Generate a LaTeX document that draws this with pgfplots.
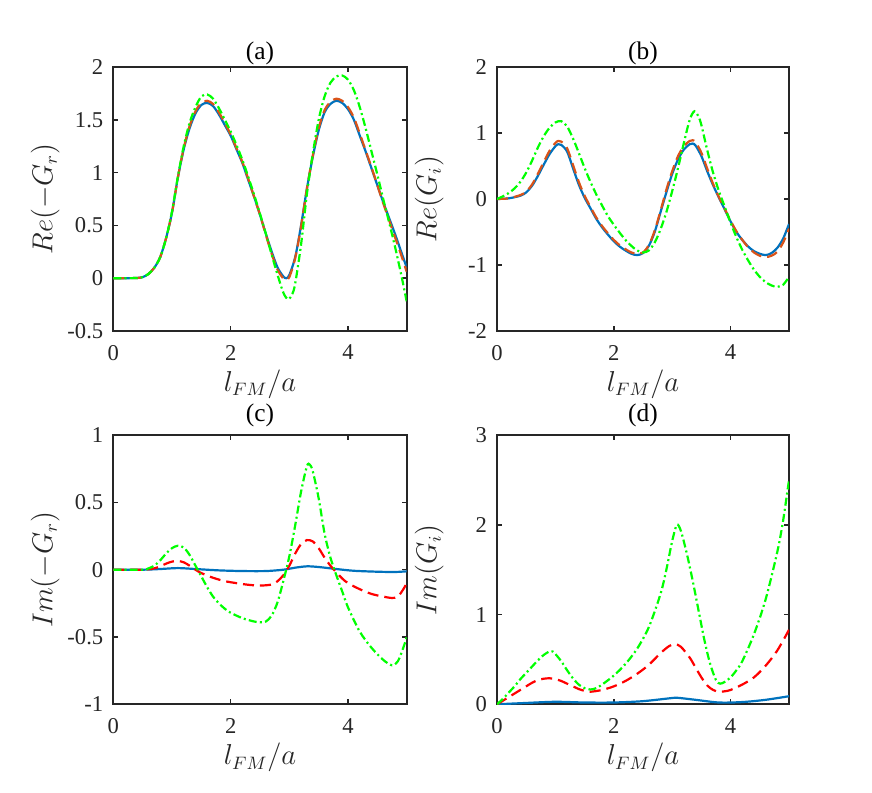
\documentclass[border=0pt]{standalone}
\usepackage{fontspec}
\setmainfont{Liberation Serif}
\usepackage{pgfplots}
\pgfplotsset{compat=1.18}
\definecolor{mblue}{rgb}{0,0.447,0.741}
\definecolor{morange}{rgb}{0.85,0.325,0.098}
\definecolor{mred}{rgb}{1,0,0}
\definecolor{mgreen}{rgb}{0,1,0}
\definecolor{axgray}{rgb}{0.15,0.15,0.15}
\pgfplotsset{
 panel/.style={
  scale only axis,
  xmin=0, xmax=5, xtick={0,2,4},
  axis line style={axgray, line width=1.1pt},
  tick style={axgray, line width=0.8pt},
  major tick length=2.5pt,
  tick align=inside,
  /pgf/number format/assume math mode=true,
  ticklabel style={font=\fontsize{11.3}{13}\selectfont, text=axgray},
  xticklabel style={yshift=-3.5pt},
  yticklabel style={xshift=-1.5pt},
  xlabel={$l_{FM}/a$},
  label style={font=\fontsize{13.5}{15}\selectfont, text=axgray},
  every axis title shift=0pt,
  title style={font=\fontsize{12.7}{15}\selectfont, anchor=center},
  every axis plot/.append style={line width=1.1pt},
 },
 sblue/.style={mblue, solid},
 sorange/.style={morange, dash pattern=on 5.5pt off 3pt},
 sred/.style={mred, dash pattern=on 5.5pt off 3pt},
 sgreen/.style={mgreen, dash pattern=on 4pt off 1.6pt on 1pt off 1.6pt},
}
\begin{document}
\begin{tikzpicture}
\useasboundingbox (0,0) rectangle (436pt,396pt);
% ---------- (a)
\begin{axis}[panel, at={(56.65pt,230.5pt)}, anchor=south west,
  width=146.7pt, height=132pt,
  ymin=-0.5, ymax=2, ytick={-0.5,0,0.5,1,1.5,2},
  title={(a)}, title style={at={(0.5,1.053)}},
  xlabel style={at={(0.5,-0.202)}, anchor=center},
  ylabel={$Re(-G_r)$}, ylabel style={at={(-0.232,0.5)}, anchor=center},
]
\addplot[sblue, smooth] coordinates {
(0,0) (0.2,0) (0.4,0.002) (0.5,0.01) (0.6,0.04) (0.7,0.1) (0.8,0.2) (0.9,0.38)
(1.0,0.62) (1.1,0.95) (1.2,1.22) (1.3,1.42) (1.4,1.56) (1.5,1.64) (1.6,1.66)
(1.7,1.63) (1.8,1.55) (1.9,1.45) (2.0,1.35) (2.1,1.22) (2.2,1.09) (2.3,0.93)
(2.4,0.77) (2.5,0.6) (2.6,0.42) (2.7,0.25) (2.8,0.1) (2.9,0.015) (2.95,0.0)
(3.0,0.03) (3.1,0.2) (3.2,0.5) (3.3,0.85) (3.4,1.15) (3.5,1.4) (3.6,1.57)
(3.7,1.65) (3.8,1.68) (3.9,1.66) (4.0,1.6) (4.1,1.5) (4.2,1.35) (4.3,1.2)
(4.4,1.04) (4.5,0.88) (4.6,0.72) (4.7,0.57) (4.8,0.42) (4.9,0.26) (5.0,0.1)};
\addplot[sorange, smooth] coordinates {
(0,0) (0.2,0) (0.4,0.002) (0.5,0.01) (0.6,0.04) (0.7,0.1) (0.8,0.2) (0.9,0.38)
(1.0,0.62) (1.1,0.95) (1.2,1.23) (1.3,1.44) (1.4,1.58) (1.5,1.66) (1.6,1.68)
(1.7,1.65) (1.8,1.57) (1.9,1.47) (2.0,1.36) (2.1,1.23) (2.2,1.1) (2.3,0.94)
(2.4,0.77) (2.5,0.6) (2.6,0.41) (2.7,0.23) (2.8,0.08) (2.9,-0.005) (2.95,-0.015)
(3.0,0.01) (3.1,0.19) (3.2,0.49) (3.3,0.85) (3.4,1.16) (3.5,1.42) (3.6,1.59)
(3.7,1.67) (3.8,1.70) (3.9,1.68) (4.0,1.62) (4.1,1.52) (4.2,1.37) (4.3,1.21)
(4.4,1.05) (4.5,0.88) (4.6,0.71) (4.7,0.55) (4.8,0.39) (4.9,0.23) (5.0,0.06)};
\addplot[sgreen, smooth] coordinates {
(0,0) (0.2,0) (0.4,0.002) (0.5,0.01) (0.6,0.04) (0.7,0.1) (0.8,0.2) (0.9,0.38)
(1.0,0.63) (1.1,0.96) (1.2,1.25) (1.3,1.47) (1.4,1.62) (1.5,1.72) (1.6,1.74)
(1.7,1.7) (1.8,1.61) (1.9,1.5) (2.0,1.39) (2.1,1.26) (2.2,1.12) (2.3,0.96)
(2.4,0.79) (2.5,0.61) (2.6,0.42) (2.7,0.22) (2.8,0.03) (2.9,-0.14) (2.98,-0.2)
(3.05,-0.15) (3.1,-0.05) (3.2,0.32) (3.3,0.8) (3.4,1.18) (3.5,1.5) (3.6,1.72)
(3.7,1.85) (3.8,1.91) (3.9,1.92) (4.0,1.88) (4.1,1.78) (4.2,1.62) (4.3,1.42)
(4.4,1.2) (4.5,0.98) (4.6,0.75) (4.7,0.53) (4.8,0.3) (4.9,0.05) (5.0,-0.22)};
\end{axis}
% ---------- (b)
\begin{axis}[panel, at={(248.5pt,230.5pt)}, anchor=south west,
  width=146pt, height=132pt,
  ymin=-2, ymax=2, ytick={-2,-1,0,1,2},
  title={(b)}, title style={at={(0.5,1.053)}},
  xlabel style={at={(0.5,-0.202)}, anchor=center},
  ylabel={$Re(G_i)$}, ylabel style={at={(-0.232,0.5)}, anchor=center},
]
\addplot[sblue, smooth] coordinates {
(0,0) (0.2,0.01) (0.4,0.05) (0.5,0.1) (0.6,0.2) (0.7,0.35) (0.8,0.52) (0.9,0.68)
(1.0,0.8) (1.05,0.83) (1.1,0.82) (1.2,0.72) (1.3,0.47) (1.4,0.22) (1.5,0.02)
(1.6,-0.14) (1.7,-0.3) (1.8,-0.43) (1.9,-0.54) (2.0,-0.64) (2.1,-0.72) (2.2,-0.78)
(2.3,-0.83) (2.4,-0.85) (2.5,-0.82) (2.6,-0.71) (2.7,-0.5) (2.8,-0.2) (2.9,0.1)
(3.0,0.38) (3.1,0.6) (3.2,0.75) (3.3,0.83) (3.35,0.84) (3.4,0.81) (3.5,0.65)
(3.6,0.42) (3.7,0.21) (3.8,0.02) (3.9,-0.16) (4.0,-0.34) (4.1,-0.5) (4.2,-0.62)
(4.3,-0.72) (4.4,-0.79) (4.5,-0.83) (4.6,-0.85) (4.7,-0.82) (4.8,-0.74) (4.9,-0.6) (5.0,-0.38)};
\addplot[sorange, smooth] coordinates {
(0,0) (0.2,0.01) (0.4,0.06) (0.5,0.11) (0.6,0.22) (0.7,0.38) (0.8,0.56) (0.9,0.73)
(1.0,0.85) (1.05,0.88) (1.1,0.87) (1.2,0.77) (1.3,0.52) (1.4,0.26) (1.5,0.05)
(1.6,-0.12) (1.7,-0.28) (1.8,-0.41) (1.9,-0.52) (2.0,-0.62) (2.1,-0.7) (2.2,-0.76)
(2.3,-0.81) (2.4,-0.83) (2.5,-0.81) (2.6,-0.7) (2.7,-0.48) (2.8,-0.18) (2.9,0.14)
(3.0,0.42) (3.1,0.65) (3.2,0.8) (3.3,0.88) (3.35,0.89) (3.4,0.86) (3.5,0.7)
(3.6,0.46) (3.7,0.23) (3.8,0.03) (3.9,-0.15) (4.0,-0.33) (4.1,-0.49) (4.2,-0.62)
(4.3,-0.73) (4.4,-0.81) (4.5,-0.86) (4.6,-0.88) (4.7,-0.86) (4.8,-0.8) (4.9,-0.66) (5.0,-0.45)};
\addplot[sgreen, smooth] coordinates {
(0,0) (0.1,0.04) (0.2,0.09) (0.3,0.16) (0.4,0.26) (0.5,0.4) (0.6,0.58) (0.7,0.78)
(0.8,0.95) (0.9,1.08) (1.0,1.16) (1.1,1.18) (1.2,1.1) (1.3,0.92) (1.4,0.7) (1.5,0.47)
(1.6,0.26) (1.7,0.07) (1.8,-0.1) (1.9,-0.26) (2.0,-0.39) (2.1,-0.51) (2.2,-0.62)
(2.3,-0.71) (2.4,-0.78) (2.5,-0.81) (2.6,-0.78) (2.7,-0.66) (2.8,-0.46) (2.9,-0.2)
(3.0,0.12) (3.1,0.47) (3.2,0.85) (3.3,1.2) (3.38,1.33) (3.45,1.25) (3.5,1.12)
(3.6,0.74) (3.7,0.4) (3.8,0.12) (3.9,-0.12) (4.0,-0.36) (4.1,-0.58) (4.2,-0.77)
(4.3,-0.93) (4.4,-1.07) (4.5,-1.18) (4.6,-1.26) (4.7,-1.31) (4.8,-1.33) (4.9,-1.3) (5.0,-1.18)};
\end{axis}
% ---------- (c)
\begin{axis}[panel, at={(56.65pt,43.85pt)}, anchor=south west,
  width=146.7pt, height=134.6pt,
  ymin=-1, ymax=1, ytick={-1,-0.5,0,0.5,1},
  title={(c)}, title style={at={(0.5,1.072)}},
  xlabel style={at={(0.5,-0.198)}, anchor=center},
  ylabel={$Im(-G_r)$}, ylabel style={at={(-0.232,0.5)}, anchor=center},
]
\addplot[sblue, smooth] coordinates {
(0,0) (0.5,0.0) (0.8,0.005) (1.1,0.012) (1.4,0.005) (1.8,-0.005) (2.2,-0.01)
(2.6,-0.01) (2.9,0.0) (3.1,0.015) (3.3,0.025) (3.5,0.02) (3.8,0.005) (4.1,-0.008)
(4.5,-0.015) (4.8,-0.017) (5.0,-0.012)};
\addplot[sred, smooth] coordinates {
(0,0) (0.5,0.0) (0.6,0.003) (0.7,0.01) (0.8,0.025) (0.9,0.045) (1.0,0.06) (1.1,0.065)
(1.2,0.055) (1.3,0.03) (1.4,0.0) (1.5,-0.025) (1.7,-0.06) (1.9,-0.085) (2.1,-0.1)
(2.3,-0.112) (2.5,-0.118) (2.7,-0.11) (2.8,-0.085) (2.9,-0.04) (3.0,0.03) (3.1,0.12)
(3.2,0.19) (3.3,0.22) (3.4,0.21) (3.5,0.16) (3.6,0.09) (3.7,0.03) (3.8,-0.02)
(3.9,-0.065) (4.0,-0.1) (4.2,-0.145) (4.4,-0.18) (4.6,-0.2) (4.75,-0.21) (4.85,-0.2)
(4.95,-0.14) (5.0,-0.1)};
\addplot[sgreen, smooth] coordinates {
(0,0) (0.5,0.0) (0.6,0.01) (0.7,0.03) (0.8,0.07) (0.9,0.12) (1.0,0.16) (1.1,0.178)
(1.2,0.165) (1.3,0.11) (1.4,0.03) (1.5,-0.05) (1.6,-0.13) (1.7,-0.2) (1.8,-0.25)
(1.9,-0.29) (2.0,-0.32) (2.2,-0.36) (2.4,-0.385) (2.5,-0.39) (2.6,-0.385) (2.7,-0.34)
(2.8,-0.24) (2.9,-0.08) (3.0,0.1) (3.1,0.33) (3.2,0.58) (3.3,0.77) (3.35,0.78)
(3.4,0.73) (3.5,0.53) (3.6,0.27) (3.7,0.09) (3.8,-0.04) (3.9,-0.16) (4.0,-0.28)
(4.2,-0.46) (4.4,-0.58) (4.6,-0.67) (4.75,-0.71) (4.85,-0.68) (4.95,-0.57) (5.0,-0.5)};
\end{axis}
% ---------- (d)
\begin{axis}[panel, at={(248.5pt,43.85pt)}, anchor=south west,
  width=146pt, height=134.6pt,
  ymin=0, ymax=3, ytick={0,1,2,3},
  title={(d)}, title style={at={(0.5,1.072)}},
  xlabel style={at={(0.5,-0.198)}, anchor=center},
  ylabel={$Im(G_i)$}, ylabel style={at={(-0.232,0.5)}, anchor=center},
]
\addplot[sblue, smooth] coordinates {
(0,0) (0.5,0.015) (1.0,0.028) (1.5,0.02) (2.0,0.02) (2.5,0.035) (3.0,0.07) (3.1,0.072)
(3.4,0.05) (3.8,0.02) (4.2,0.025) (4.6,0.05) (5.0,0.09)};
\addplot[sred, smooth] coordinates {
(0,0) (0.1,0.04) (0.2,0.08) (0.3,0.12) (0.4,0.16) (0.5,0.2) (0.6,0.24) (0.7,0.27)
(0.8,0.285) (0.9,0.29) (1.0,0.28) (1.1,0.26) (1.2,0.23) (1.3,0.2) (1.4,0.17)
(1.5,0.15) (1.6,0.14) (1.8,0.16) (2.0,0.2) (2.2,0.26) (2.4,0.34) (2.6,0.44)
(2.8,0.57) (2.95,0.65) (3.05,0.67) (3.15,0.64) (3.3,0.52) (3.4,0.41) (3.5,0.3)
(3.6,0.21) (3.7,0.16) (3.8,0.14) (3.9,0.145) (4.0,0.16) (4.2,0.22) (4.4,0.3)
(4.6,0.43) (4.8,0.6) (5.0,0.83)};
\addplot[sgreen, smooth] coordinates {
(0,0) (0.1,0.06) (0.2,0.13) (0.3,0.2) (0.4,0.28) (0.5,0.35) (0.6,0.42) (0.7,0.49)
(0.8,0.55) (0.9,0.59) (0.95,0.59) (1.0,0.56) (1.1,0.48) (1.2,0.38) (1.3,0.29)
(1.4,0.22) (1.5,0.18) (1.6,0.165) (1.7,0.18) (1.8,0.22) (2.0,0.32) (2.2,0.45)
(2.4,0.62) (2.6,0.86) (2.8,1.23) (2.9,1.5) (3.0,1.82) (3.08,2.0) (3.15,1.93)
(3.25,1.68) (3.35,1.38) (3.45,1.05) (3.55,0.72) (3.65,0.45) (3.75,0.27) (3.82,0.23)
(3.9,0.25) (4.0,0.3) (4.1,0.38) (4.2,0.48) (4.4,0.78) (4.6,1.17) (4.8,1.7) (4.9,2.05) (5.0,2.5)};
\end{axis}
\end{tikzpicture}
\end{document}
